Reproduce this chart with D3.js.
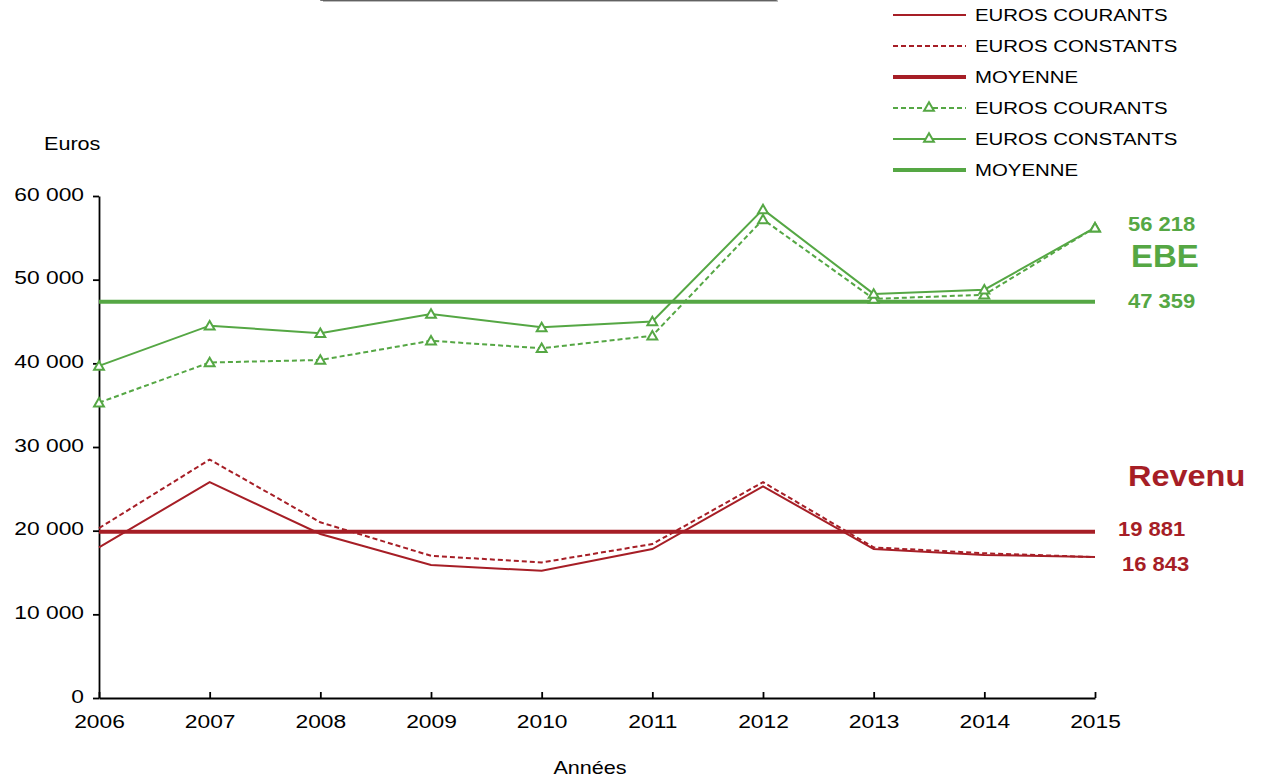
<!DOCTYPE html>
<html><head><meta charset="utf-8">
<script src="https://cdn.jsdelivr.net/npm/d3@7"></script>
<style>
html,body{margin:0;padding:0;background:#fff;}
svg{display:block;font-family:"Liberation Sans",Arial,sans-serif;}
</style></head>
<body>
<svg id="chart" width="1263" height="782"></svg>
<script>
const years = [2006, 2007, 2008, 2009, 2010, 2011, 2012, 2013, 2014, 2015];
const revenuCourants = [18000, 25800, 19600, 15900, 15200, 17800, 25300, 17800, 17100, 16843];
const revenuConstants = [20300, 28500, 21000, 17000, 16200, 18400, 25800, 18000, 17300, 16843];
const ebeCourants = [35300, 40100, 40400, 42700, 41800, 43300, 57200, 47700, 48200, 56218];
const ebeConstants = [39700, 44500, 43600, 45900, 44300, 45000, 58400, 48300, 48800, 56218];
const revenuMoyenne = 19881;
const ebeMoyenne = 47359;
const yTicks = [0, 10000, 20000, 30000, 40000, 50000, 60000];
const legendLabels = ["EUROS COURANTS", "EUROS CONSTANTS", "MOYENNE", "EUROS COURANTS", "EUROS CONSTANTS", "MOYENNE"];

const RED = "#a61e26", GREEN = "#55a744";
const SX = 1.2;
const svg = d3.select("#chart");

const x = d3.scaleLinear().domain([2006, 2015]).range([99, 1095]);
const y = d3.scaleLinear().domain([0, 60000]).range([698, 196]);
const fmt = v => d3.format(",")(v).replace(/,/g, " ");

// title box remnant at top
svg.append("rect").attr("x", 323).attr("y", -40).attr("width", 455).attr("height", 42)
  .attr("fill", "#bbb");
svg.append("rect").attr("x", 321).attr("y", -40).attr("width", 455).attr("height", 40)
  .attr("fill", "#fff").attr("stroke", "#444").attr("stroke-width", 1.5);

function txt(xp, yp, s, opts) {
  const g = svg.append("g").attr("transform", `translate(${xp},${yp}) scale(${opts.sx || SX},1)`);
  return g.append("text").text(s)
    .attr("font-size", opts.size || 18)
    .attr("font-weight", opts.bold ? "bold" : "normal")
    .attr("fill", opts.color || "#000")
    .attr("text-anchor", opts.anchor || "start")
    .attr("dominant-baseline", "middle");
}

// axes
const yAxis = svg.append("g").attr("transform", "translate(99,0)")
  .call(d3.axisLeft(y).tickValues(yTicks).tickFormat(fmt).tickSize(6).tickSizeOuter(0));
yAxis.selectAll("text").attr("x", null).attr("dy", "0.32em")
  .attr("transform", `translate(-15,-2) scale(${SX},1)`)
  .attr("font-size", 19).attr("font-family", "Liberation Sans, Arial, sans-serif").attr("fill", "#000");
const xAxis = svg.append("g").attr("transform", "translate(0,698)")
  .call(d3.axisBottom(x).tickValues(years).tickFormat(d3.format("d")).tickSize(-6).tickSizeOuter(0));
xAxis.selectAll("text").attr("y", null).attr("dy", null)
  .attr("transform", `translate(0,30) scale(${SX},1)`)
  .attr("font-size", 19).attr("font-family", "Liberation Sans, Arial, sans-serif").attr("fill", "#000");
svg.selectAll(".domain, .tick line").attr("stroke", "#000").attr("stroke-width", 1.8);

txt(44, 145, "Euros", {size: 18});
txt(590, 769, "Années", {size: 18, anchor: "middle"});

// mean lines
const meanLine = (v, c) => svg.append("line").attr("x1", x(2006)).attr("x2", x(2015))
  .attr("y1", y(v)).attr("y2", y(v)).attr("stroke", c).attr("stroke-width", 4);
meanLine(ebeMoyenne, GREEN);
meanLine(revenuMoyenne, RED);

const line = d3.line().x((d, i) => x(years[i])).y(d => y(d));
function series(data, color, dash, markers) {
  svg.append("path").datum(data).attr("d", line).attr("fill", "none")
    .attr("stroke", color).attr("stroke-width", 2).attr("stroke-dasharray", dash);
  if (markers) {
    svg.append("g").selectAll("path").data(data).join("path")
      .attr("d", d3.symbol(d3.symbolTriangle, 42))
      .attr("transform", (d, i) => `translate(${x(years[i])},${y(d) + 1})`)
      .attr("fill", "#fff").attr("stroke", color).attr("stroke-width", 2);
  }
}
series(revenuCourants, RED, null, false);
series(revenuConstants, RED, "5,3", false);
series(ebeCourants, GREEN, "5,3", true);
series(ebeConstants, GREEN, null, true);

// end labels
txt(1128, 226, fmt(56218), {size: 20, bold: true, color: GREEN, sx: 1.1});
txt(1131, 259, "EBE", {size: 32, bold: true, color: GREEN, sx: 1.03});
txt(1128, 303, fmt(ebeMoyenne), {size: 20, bold: true, color: GREEN, sx: 1.1});
txt(1128, 478, "Revenu", {size: 29, bold: true, color: RED, sx: 1.12});
txt(1118, 531, fmt(revenuMoyenne), {size: 20, bold: true, color: RED, sx: 1.1});
txt(1122, 566, fmt(16843), {size: 20, bold: true, color: RED, sx: 1.1});

// legend
const legStyles = [
  {c: RED, w: 2, dash: null, m: false},
  {c: RED, w: 2, dash: "5,3", m: false},
  {c: RED, w: 4, dash: null, m: false},
  {c: GREEN, w: 2, dash: "5,3", m: true},
  {c: GREEN, w: 2, dash: null, m: true},
  {c: GREEN, w: 4, dash: null, m: false}
];
legendLabels.forEach((lab, i) => {
  const yy = 15 + i * 31;
  const st = legStyles[i];
  svg.append("line").attr("x1", 893).attr("x2", 966).attr("y1", yy).attr("y2", yy)
    .attr("stroke", st.c).attr("stroke-width", st.w).attr("stroke-dasharray", st.dash);
  if (st.m) svg.append("path").attr("d", d3.symbol(d3.symbolTriangle, 42))
    .attr("transform", `translate(929,${yy})`).attr("fill", "#fff").attr("stroke", st.c).attr("stroke-width", 2);
  txt(975, yy + 2, lab, {size: 17});
});
</script>
</body></html>
